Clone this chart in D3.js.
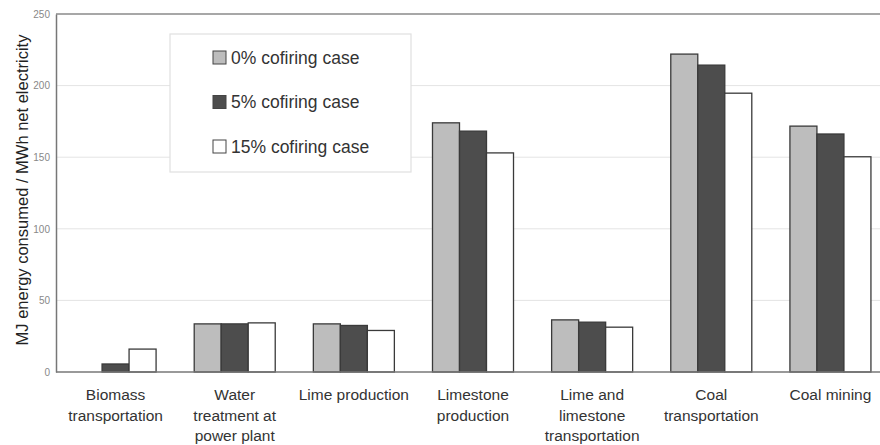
<!DOCTYPE html>
<html>
<head>
<meta charset="utf-8">
<script src="https://cdn.jsdelivr.net/npm/d3@7"></script>
<style>
	body { margin: 0; background: #fff; }
	svg { display: block; font-family: "Liberation Sans", Arial, sans-serif; }
</style>
</head>
<body>
<svg id="chart" width="880" height="445"></svg>
<script>
var categories = [
	["Biomass", "transportation"],
	["Water", "treatment at", "power plant"],
	["Lime production"],
	["Limestone", "production"],
	["Lime and", "limestone", "transportation"],
	["Coal", "transportation"],
	["Coal mining"]
];
var seriesNames = ["0% cofiring case", "5% cofiring case", "15% cofiring case"];
var case0 = [0, 33.6, 33.6, 174, 36.4, 222, 171.7];
var case5 = [5.6, 33.6, 32.5, 168.2, 34.8, 214.3, 166.2];
var case15 = [16, 34.3, 29, 153, 31.3, 194.7, 150.3];
var yTicks = [0, 50, 100, 150, 200, 250];

var fills = ["#bdbdbd", "#4d4d4d", "#ffffff"];

var svg = d3.select("#chart"),
	margin = { top: 14, left: 56, right: -10, bottom: 73 },
	width = +svg.attr("width"),
	height = +svg.attr("height");

var series = [case0, case5, case15];

var x0 = d3.scaleBand()
	.domain(d3.range(categories.length))
	.range([margin.left, width - margin.right])
	.paddingInner(0.32)
	.paddingOuter(0.16);
var x1 = d3.scaleBand()
	.domain(d3.range(series.length))
	.range([0, x0.bandwidth()]);
var y = d3.scaleLinear()
	.domain([0, 250])
	.range([height - margin.bottom, margin.top]);

// gridlines
svg.append("g").selectAll("line")
	.data(yTicks.slice(1, -1))
	.enter().append("line")
	.attr("x1", margin.left).attr("x2", width)
	.attr("y1", function(d) { return y(d); })
	.attr("y2", function(d) { return y(d); })
	.attr("stroke", "#e4e4e4")
	.attr("stroke-width", 1);

// top border
svg.append("line")
	.attr("x1", margin.left).attr("x2", width)
	.attr("y1", y(250)).attr("y2", y(250))
	.attr("stroke", "#8a8a8a").attr("stroke-width", 1.5);

// legend box (covers the grid)
var legend = svg.append("g").attr("transform", "translate(170,34)");
legend.append("rect")
	.attr("width", 241).attr("height", 138)
	.attr("fill", "#fff")
	.attr("stroke", "#e0e0e0").attr("stroke-width", 1.2);
var li = legend.selectAll("g.item").data(seriesNames)
	.enter().append("g").attr("class", "item")
	.attr("transform", function(d, i) { return "translate(43," + (23.5 + i * 44.5) + ")"; });
li.append("rect")
	.attr("x", 0).attr("y", -6.5)
	.attr("width", 13).attr("height", 13)
	.attr("fill", function(d, i) { return fills[i]; })
	.attr("stroke", "#444").attr("stroke-width", 1);
li.append("text")
	.attr("x", 18).attr("dy", "0.36em")
	.attr("font-size", 17.5)
	.attr("fill", "#333")
	.text(function(d) { return d; });

// bars
var groups = svg.append("g").selectAll("g")
	.data(categories)
	.enter().append("g")
	.attr("transform", function(d, i) { return "translate(" + x0(i) + ",0)"; });
groups.selectAll("rect")
	.data(function(d, i) {
		return series.map(function(s, j) { return { j: j, v: s[i] }; })
			.filter(function(e) { return e.v > 0; });
	})
	.enter().append("rect")
	.attr("x", function(d) { return x1(d.j); })
	.attr("y", function(d) { return y(d.v); })
	.attr("width", x1.bandwidth())
	.attr("height", function(d) { return y(0) - y(d.v); })
	.attr("fill", function(d) { return fills[d.j]; })
	.attr("stroke", "#3a3a3a")
	.attr("stroke-width", 1.3);

// y axis
var axisY = d3.axisLeft(y).tickValues(yTicks).tickSize(0).tickPadding(6);
var gy = svg.append("g")
	.attr("transform", "translate(" + margin.left + ",0)")
	.call(axisY);
gy.select(".domain").attr("stroke", "#777").attr("stroke-width", 1.5);
gy.selectAll("text").attr("font-size", 10).attr("fill", "#888")
	.attr("font-family", "Liberation Sans, Arial, sans-serif");

// baseline
svg.append("line")
	.attr("x1", margin.left).attr("x2", width)
	.attr("y1", y(0)).attr("y2", y(0))
	.attr("stroke", "#777").attr("stroke-width", 1.5);

// category labels
var labels = svg.append("g").selectAll("text")
	.data(categories)
	.enter().append("text")
	.attr("x", function(d, i) { return x0(i) + x0.bandwidth() / 2; })
	.attr("y", 400)
	.attr("text-anchor", "middle")
	.attr("font-size", 15.5)
	.attr("fill", "#333");
labels.selectAll("tspan")
	.data(function(d) { return d; })
	.enter().append("tspan")
	.attr("x", function() { return this.parentNode.getAttribute("x"); })
	.attr("dy", function(d, k) { return k === 0 ? 0 : 20.5; })
	.text(function(d) { return d; });

// y title
svg.append("text")
	.attr("transform", "translate(28,190) rotate(-90)")
	.attr("text-anchor", "middle")
	.attr("font-size", 16.5)
	.attr("fill", "#222")
	.text("MJ energy consumed / MWh net electricity");
</script>
</body>
</html>
